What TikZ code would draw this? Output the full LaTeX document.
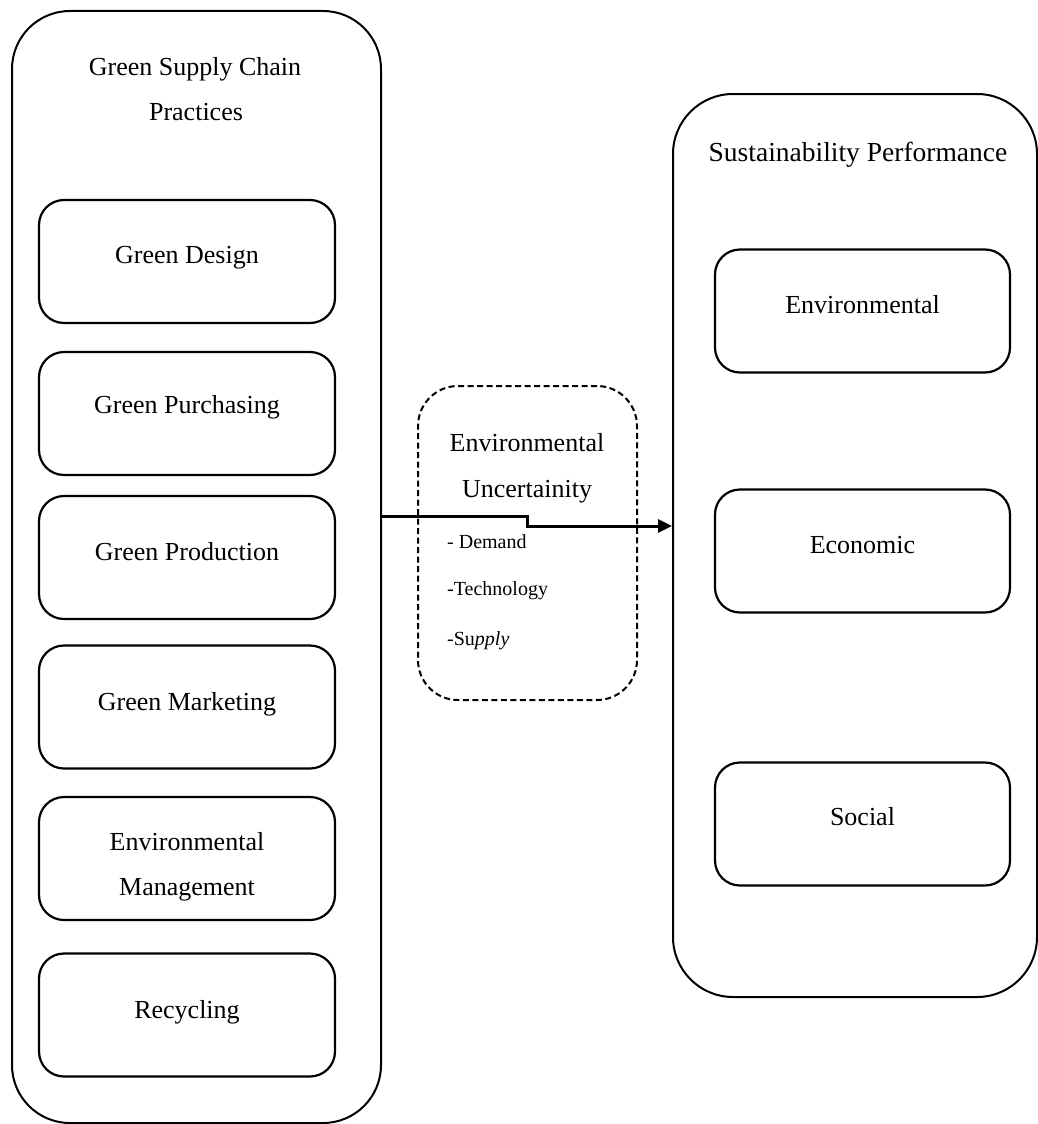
\documentclass[tikz,border=0pt]{standalone}
\usepackage{fontspec}
\setmainfont{Liberation Serif}
\usetikzlibrary{arrows.meta}
\tikzset{
  bigbox/.style={draw=black, line width=2pt, rounded corners=58pt, inner sep=0pt},
  innerbox/.style={draw=black, line width=2.2pt, rounded corners=25pt, minimum width=296pt, minimum height=123pt, inner sep=0pt},
  dashbox/.style={draw=black, line width=2pt, dash pattern=on 6pt off 3.5pt, rounded corners=40pt, minimum width=219pt, minimum height=314pt, inner sep=0pt},
  lbl/.style={font=\fontsize{26}{45}\selectfont, inner sep=0pt, anchor=base},
  small/.style={font=\fontsize{20}{24}\selectfont, inner sep=0pt, anchor=base west},
  arr/.style={line width=3pt, -{Triangle[length=14pt,width=13pt]}}
}
\begin{document}
\begin{tikzpicture}[x=1pt,y=-1pt]
\useasboundingbox (0,0) rectangle (1038,1124);
% big containers
\node[bigbox, minimum width=369pt, minimum height=1112pt] (L) at (196.5,567) {};
\node[bigbox, minimum width=364pt, minimum height=903pt, rounded corners=60pt] (R) at (855,545.5) {};
\node[lbl] (Lt1) at (195,75) {Green Supply Chain};
\node[lbl] (Lt2) at (196,120) {Practices};
\node[lbl, font=\fontsize{27.5}{45}\selectfont] (Rt) at (858,161) {Sustainability Performance};
% left inner boxes
\node[innerbox] (gd) at (187,261.5) {};
\node[innerbox] (gp) at (187,413.5) {};
\node[innerbox] (gpr) at (187,557.5) {};
\node[innerbox] (gm) at (187,707) {};
\node[innerbox] (em) at (187,858.5) {};
\node[innerbox] (rc) at (187,1015) {};
\node[lbl] (gdt) at (187,263) {Green Design};
\node[lbl] (gpt) at (187,413) {Green Purchasing};
\node[lbl] (gprt) at (187,560) {Green Production};
\node[lbl] (gmt) at (187,710) {Green Marketing};
\node[lbl] (emt1) at (187,850) {Environmental};
\node[lbl] (emt2) at (187,895) {Management};
\node[lbl] (rct) at (187,1018) {Recycling};
% right inner boxes
\node[innerbox, minimum width=295pt] (env) at (862.5,311) {};
\node[innerbox, minimum width=295pt] (eco) at (862.5,551) {};
\node[innerbox, minimum width=295pt] (soc) at (862.5,824) {};
\node[lbl] (envt) at (862.5,313) {Environmental};
\node[lbl] (ecot) at (862.5,553) {Economic};
\node[lbl] (soct) at (862.5,825) {Social};
% moderator
\node[dashbox] (U) at (527.5,543) {};
\node[lbl] (Ut1) at (527,451) {Environmental};
\node[lbl] (Ut2) at (527,497) {Uncertainity};
\node[small] (u1) at (447,548) {- Demand};
\node[small] (u2) at (447,595) {-Technology};
\node[small] (u3) at (447,645) {-Su\textit{pply}};
% connector
\coordinate (s1) at (527,516);
\coordinate (s2) at (527,526);
\draw[arr] (s1 -| L.east) -- (s1) -- (s2) -- (s2 -| R.west);
\end{tikzpicture}
\end{document}
